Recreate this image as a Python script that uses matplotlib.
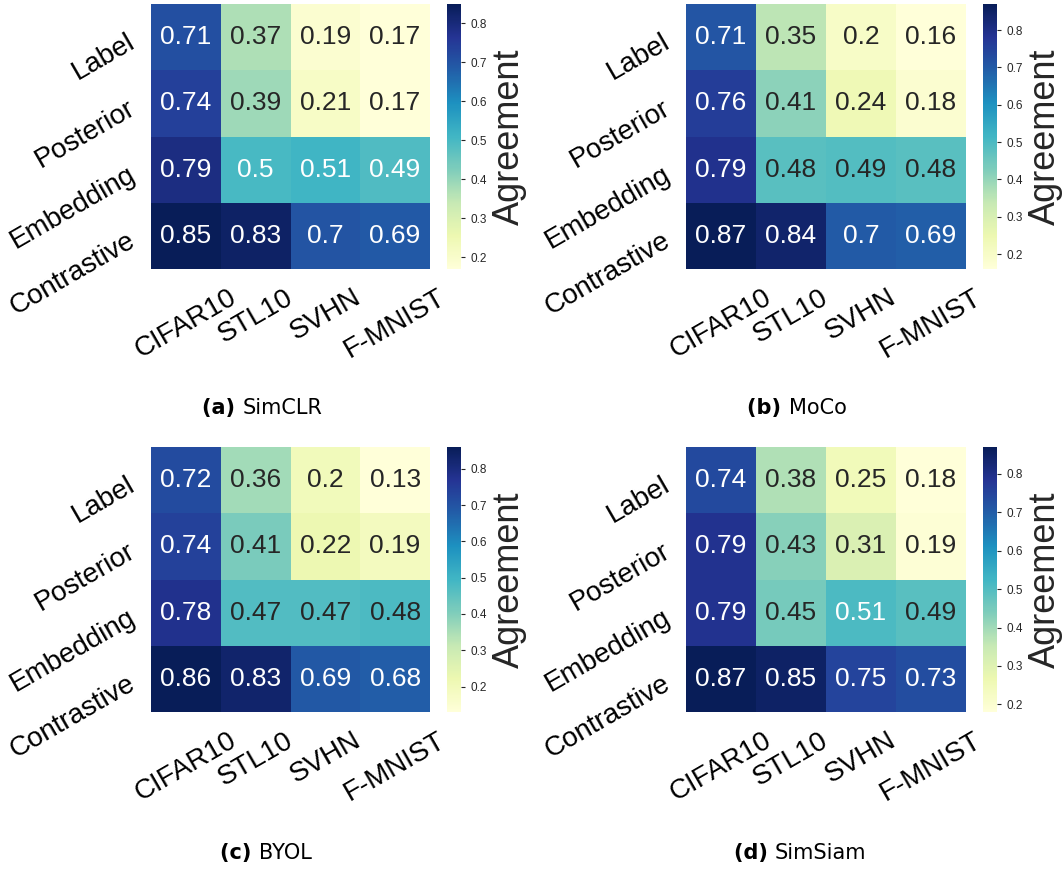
import matplotlib
matplotlib.use("Agg")
import matplotlib.pyplot as plt
import matplotlib.transforms as mtransforms
import numpy as np
import seaborn as sns
from matplotlib.ticker import MultipleLocator

plt.rcParams['font.family'] = ['Liberation Sans', 'DejaVu Sans']

# Attack types (rows) and datasets (columns)
attacks = ["Label", "Posterior", "Embedding", "Contrastive"]
datasets = ["CIFAR10", "STL10", "SVHN", "F-MNIST"]

# Agreement per encoder
simclr = [[0.71, 0.37, 0.19, 0.17],
          [0.74, 0.39, 0.21, 0.17],
          [0.79, 0.50, 0.51, 0.49],
          [0.85, 0.83, 0.70, 0.69]]
moco = [[0.71, 0.35, 0.20, 0.16],
        [0.76, 0.41, 0.24, 0.18],
        [0.79, 0.48, 0.49, 0.48],
        [0.87, 0.84, 0.70, 0.69]]
byol = [[0.72, 0.36, 0.20, 0.13],
        [0.74, 0.41, 0.22, 0.19],
        [0.78, 0.47, 0.47, 0.48],
        [0.86, 0.83, 0.69, 0.68]]
simsiam = [[0.74, 0.38, 0.25, 0.18],
           [0.79, 0.43, 0.31, 0.19],
           [0.79, 0.45, 0.51, 0.49],
           [0.87, 0.85, 0.75, 0.73]]

panel_tags = ["(a)", "(b)", "(c)", "(d)"]
panel_names = ["SimCLR", "MoCo", "BYOL", "SimSiam"]
panel_data = [simclr, moco, byol, simsiam]

# annotation colours for cells sitting right at the light/dark switch
text_color_fix = [{(2, 3): "w"}, {}, {(2, 3): ".15"}, {}]

W, H = 1064, 869
fig = plt.figure(figsize=(W / 100, H / 100), dpi=100)


def px_axes(left, top, right, bottom):
    return fig.add_axes([left / W, 1 - bottom / H, (right - left) / W, (bottom - top) / H])


# pixel boxes: heatmap left, right, top, bottom, colorbar left/right, caption centre
layout = [
    (151, 430, 4, 269, 447, 461, 262, 408),
    (686, 966, 4, 269, 983, 997, 797, 408),
    (151, 430, 447, 712, 447, 461, 266, 853),
    (686, 966, 447, 712, 983, 997, 800, 853),
]

lift = mtransforms.ScaledTranslation(0, 8 / 100, fig.dpi_scale_trans)

captions = []
for data, tag, name, fix, (l, r, t, b, cl, cr, capx, capy) in zip(
        panel_data, panel_tags, panel_names, text_color_fix, layout):
    ax = px_axes(l, t, r, b)
    cax = px_axes(cl, t, cr, b)
    arr = np.array(data)
    sns.heatmap(arr, ax=ax, cbar_ax=cax, cmap="YlGnBu",
                annot=True, fmt=".2g", annot_kws={"size": 19},
                xticklabels=datasets, yticklabels=attacks,
                cbar_kws={"label": "Agreement"})
    for txt in ax.texts:
        x, y = txt.get_position()
        cell = (int(y), int(x))
        if cell in fix:
            txt.set_color(fix[cell])
    ax.tick_params(length=0, labelsize=20, colors="black")
    ax.tick_params(axis="x", labelrotation=30, pad=11)
    ax.tick_params(axis="y", labelrotation=30, pad=8)
    for lab in ax.get_yticklabels():
        lab.set_va("top")
        lab.set_ha("right")
        lab.set_transform(lab.get_transform() + lift)
    cax.yaxis.set_major_locator(MultipleLocator(0.1))
    cax.tick_params(labelsize=8.5, length=3, width=0.8, colors="#262626")
    cax.yaxis.label.set_size(26)
    cax.yaxis.label.set_color("#262626")
    for sp in cax.spines.values():
        sp.set_visible(False)

    # caption: bold tag followed by encoder name
    t1 = fig.text(0, 1 - capy / H, tag + " ", fontsize=15, fontweight="bold",
                  family="DejaVu Sans", ha="left", va="center")
    t2 = fig.text(0, 1 - capy / H, name, fontsize=15,
                  family="DejaVu Sans", ha="left", va="center")
    captions.append((t1, t2, capx))

renderer = fig.canvas.get_renderer()
for t1, t2, capx in captions:
    w1 = t1.get_window_extent(renderer).width
    w2 = t2.get_window_extent(renderer).width
    x0 = capx - (w1 + w2) / 2
    t1.set_x(x0 / W)
    t2.set_x((x0 + w1) / W)

fig.savefig("out.png", dpi=100)
